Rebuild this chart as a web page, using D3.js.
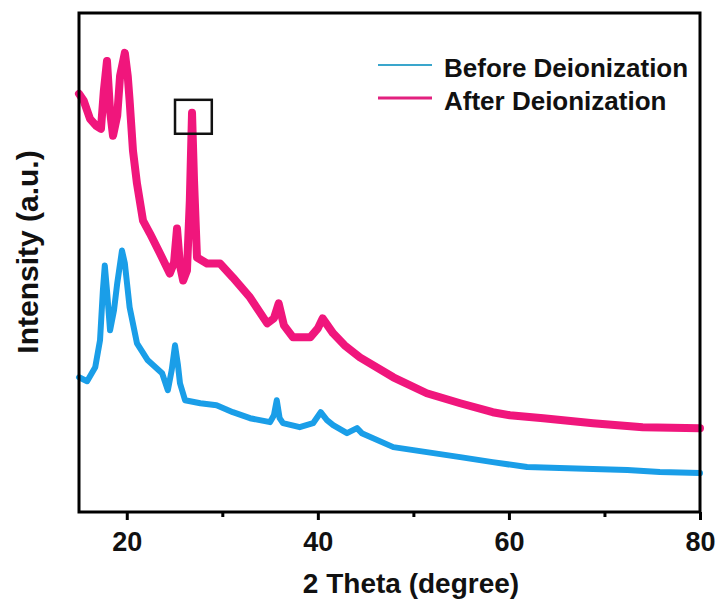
<html lang="en">
<head>
    <meta charset="UTF-8">
    <title>XRD before / after deionization</title>
    <script src="https://d3js.org/d3.v7.min.js"></script>
    <style>
        body { margin: 0; background: #fff; }
        text { font-family: "Liberation Sans", Arial, sans-serif; font-weight: bold; fill: #111; }
        .line { fill: none; stroke-linejoin: round; stroke-linecap: round; }
    </style>
</head>
<body>
<div id="chart"></div>
<script>
    // 2 theta values (degree) and intensity (a.u.)
    var beforeTheta = [15.0, 15.85, 16.7, 17.2, 17.5, 17.7, 17.93, 18.25, 18.66, 19.0, 19.5, 19.8, 20.3, 21.07,
        22.2, 23.7, 24.3, 24.7, 25.05, 25.36, 25.57, 26.1, 27.7, 29.4, 31.1, 32.9, 35.0, 35.4, 35.7, 36.0,
        36.35, 38.1, 39.5, 40.3, 40.95, 41.6, 43.05, 44.1, 44.6, 47.9, 51.4, 54.9, 58.3, 61.9, 65.3, 68.8,
        72.4, 75.8, 80.0];
    var beforeIntensity = [135, 131, 145, 172, 222, 247, 222, 182, 202, 229, 262, 249, 205, 169,
        152, 139, 122, 142, 167, 147, 129, 112, 109, 107, 100, 94, 90, 97, 112, 94,
        89, 85, 89, 100, 92, 87, 79, 84, 79, 65, 60, 55, 50, 45, 44, 43,
        42, 40, 39];

    var afterTheta = [15.0, 15.5, 16.15, 16.8, 17.3, 17.6, 17.93, 18.25, 18.56, 19.0, 19.3, 19.8, 20.1, 20.3,
        20.65, 21.07, 21.7, 22.43, 23.48, 24.5, 24.95, 25.26, 25.57, 25.9, 26.3, 26.6, 26.83, 27.04, 27.35,
        28.4, 29.76, 31.1, 32.9, 34.7, 35.4, 35.9, 36.45, 37.4, 39.2, 40.0, 40.5, 41.6, 42.8, 44.4, 47.9,
        51.4, 54.9, 58.3, 60.1, 63.6, 68.8, 74.0, 80.0];
    var afterIntensity = [419, 412, 394, 387, 384, 422, 452, 402, 377, 397, 437, 460, 437, 412,
        362, 329, 292, 279, 259, 239, 250, 284, 247, 232, 242, 312, 400, 332, 255,
        249, 249, 235, 215, 189, 194, 209, 187, 175, 175, 184, 194, 179, 167, 155, 135,
        119, 109, 100, 97, 94, 89, 85, 84];

    var seriesNames = ["Before Deionization", "After Deionization"];
    var seriesColors = ["#1a9ee8", "#f0167c"];
    var legendColors = ["#3aa6cc", "#e2207f"];

    var majorTicks = [20, 40, 60, 80];
    var minorTicks = [30, 50, 70];

    // marked region around the sharp peak
    var boxTheta = [25.05, 28.9];
    var boxIntensity = [379, 413];

    var margin = {top: 13, right: 23, bottom: 93, left: 79},
        width = 723 - margin.left - margin.right,
        height = 605 - margin.top - margin.bottom;

    var x = d3.scaleLinear().domain([15, 80]).range([0, width]);
    var y = d3.scaleLinear().domain([0, 500]).range([height, 0]);

    var svg = d3.select("#chart").append("svg")
        .attr("width", 723)
        .attr("height", 605)
        .append("g")
        .attr("transform", "translate(" + margin.left + "," + margin.top + ")");

    var valueline = d3.line()
        .x(function (d) { return x(d[0]); })
        .y(function (d) { return y(d[1]); });

    var before = d3.zip(beforeTheta, beforeIntensity);
    var after = d3.zip(afterTheta, afterIntensity);

    // thick strokes stand in for the noisy band of the measured patterns
    svg.append("path")
        .datum(before)
        .attr("class", "line")
        .attr("stroke", seriesColors[0])
        .attr("stroke-width", 6)
        .attr("d", valueline);

    svg.append("path")
        .datum(after)
        .attr("class", "line")
        .attr("stroke", seriesColors[1])
        .attr("stroke-width", 8)
        .attr("d", valueline);

    // box annotation
    svg.append("rect")
        .attr("x", x(boxTheta[0]))
        .attr("y", y(boxIntensity[1]))
        .attr("width", x(boxTheta[1]) - x(boxTheta[0]))
        .attr("height", y(boxIntensity[0]) - y(boxIntensity[1]))
        .attr("fill", "none")
        .attr("stroke", "#111")
        .attr("stroke-width", 2.5);

    // frame
    svg.append("rect")
        .attr("width", width)
        .attr("height", height)
        .attr("fill", "none")
        .attr("stroke", "#000")
        .attr("stroke-width", 3);

    // x axis
    var xAxis = svg.append("g")
        .attr("transform", "translate(0," + height + ")")
        .call(d3.axisBottom(x).tickValues(majorTicks).tickSize(8).tickPadding(12).tickFormat(d3.format("d")));
    xAxis.select(".domain").remove();
    xAxis.selectAll("line").attr("stroke", "#000").attr("stroke-width", 3);
    xAxis.selectAll("text").attr("font-size", 27).attr("fill", "#111")
        .style("font-family", "'Liberation Sans', Arial, sans-serif").style("font-weight", "bold");

    var xMinor = svg.append("g")
        .attr("transform", "translate(0," + height + ")")
        .call(d3.axisBottom(x).tickValues(minorTicks).tickSize(5).tickFormat(""));
    xMinor.select(".domain").remove();
    xMinor.selectAll("line").attr("stroke", "#000").attr("stroke-width", 3);

    // axis titles
    svg.append("text")
        .attr("x", 332)
        .attr("y", 580)
        .attr("text-anchor", "middle")
        .attr("font-size", 28)
        .text("2 Theta (degree)");

    svg.append("text")
        .attr("transform", "translate(" + (38 - margin.left) + "," + (252 - margin.top) + ") rotate(-90)")
        .attr("text-anchor", "middle")
        .attr("font-size", 30)
        .text("Intensity (a.u.)");

    // legend
    var legend = svg.selectAll(".legend")
        .data(seriesNames)
        .enter().append("g")
        .attr("class", "legend")
        .attr("transform", function (d, i) { return "translate(" + (378 - margin.left) + "," + (65 - margin.top + i * 33) + ")"; });

    legend.append("line")
        .attr("x1", 0).attr("x2", 54)
        .attr("stroke", function (d, i) { return legendColors[i]; })
        .attr("stroke-width", function (d, i) { return i === 0 ? 2 : 3; });

    legend.append("text")
        .attr("x", 66)
        .attr("y", 12)
        .attr("font-size", 26)
        .text(function (d) { return d; });
</script>
</body>
</html>
